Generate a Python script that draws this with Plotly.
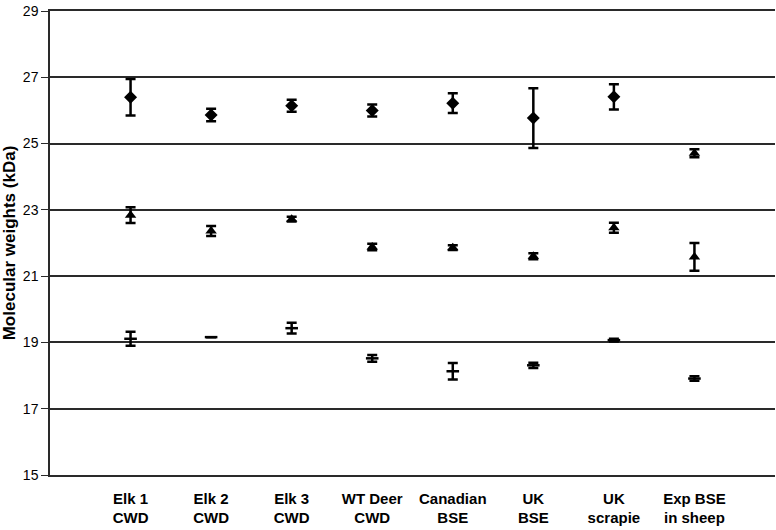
import plotly.graph_objects as go

categories = ["Elk 1<br>CWD", "Elk 2<br>CWD", "Elk 3<br>CWD", "WT Deer<br>CWD",
              "Canadian<br>BSE", "UK<br>BSE", "UK<br>scrapie", "Exp BSE<br>in sheep"]

# upper band (diamonds; the sheep point is drawn as a triangle)
upper_mw = [26.40, 25.86, 26.14, 26.00, 26.22, 25.77, 26.41, 24.71]
upper_err = [0.55, 0.19, 0.18, 0.18, 0.30, 0.90, 0.38, 0.12]
upper_symbols = ["diamond"] * 7 + ["triangle-up"]

# middle band (triangles)
middle_mw = [22.84, 22.36, 22.72, 21.88, 21.86, 21.60, 22.46, 21.58]
middle_err = [0.24, 0.15, 0.07, 0.10, 0.07, 0.09, 0.15, 0.42]

# lower band (dashes)
lower_mw = [19.11, 19.16, 19.43, 18.52, 18.13, 18.31, 19.07, 17.91]
lower_err = [0.21, 0.0, 0.16, 0.10, 0.25, 0.08, 0.04, 0.07]

y_ticks = [15, 17, 19, 21, 23, 25, 27, 29]

x_pos = list(range(len(categories)))
FONT = "Liberation Sans, Arial, sans-serif"
LINE = "#2a2a2a"


def err(values):
    return dict(type="data", array=values, visible=True, color="black",
                thickness=2.5, width=5)


fig = go.Figure()
fig.add_trace(go.Scatter(
    x=x_pos, y=upper_mw, mode="markers", error_y=err(upper_err),
    marker=dict(symbol=upper_symbols, size=10, color="black"),
))
fig.add_trace(go.Scatter(
    x=x_pos, y=middle_mw, mode="markers", error_y=err(middle_err),
    marker=dict(symbol="triangle-up", size=10, color="black"),
))
fig.add_trace(go.Scatter(
    x=x_pos, y=lower_mw, mode="markers", error_y=err(lower_err),
    marker=dict(symbol="line-ew", size=9, color="black",
                line=dict(color="black", width=2.5)),
))

fig.update_layout(
    width=776, height=530,
    margin=dict(l=50, r=1, t=11, b=55),
    paper_bgcolor="white", plot_bgcolor="white",
    showlegend=False,
    font=dict(family=FONT, size=14, color="black"),
    xaxis=dict(
        range=[-1, 8], tickvals=x_pos, ticktext=[f"<b>{c}</b>" for c in categories],
        showgrid=False, zeroline=False, showline=True, mirror=True,
        linecolor=LINE, linewidth=1.5, ticks="", automargin=False,
        ticklabelstandoff=9, tickfont=dict(size=15),
    ),
    yaxis=dict(
        range=[15, 29], tickvals=y_ticks, showgrid=True, gridcolor=LINE,
        gridwidth=1.5, zeroline=False, showline=True, linecolor=LINE,
        linewidth=1.5, ticks="outside", ticklen=7, tickcolor=LINE,
        tickfont=dict(size=14), automargin=False,
        title=dict(text="<b>Molecular weights (kDa)</b>", font=dict(size=17), standoff=4),
    ),
)

# drop the browser's default 8px body margin so the chart sits at the page corner
fig.write_html("out.html", config={"displayModeBar": False},
               post_script="document.body.style.margin = '0';")
